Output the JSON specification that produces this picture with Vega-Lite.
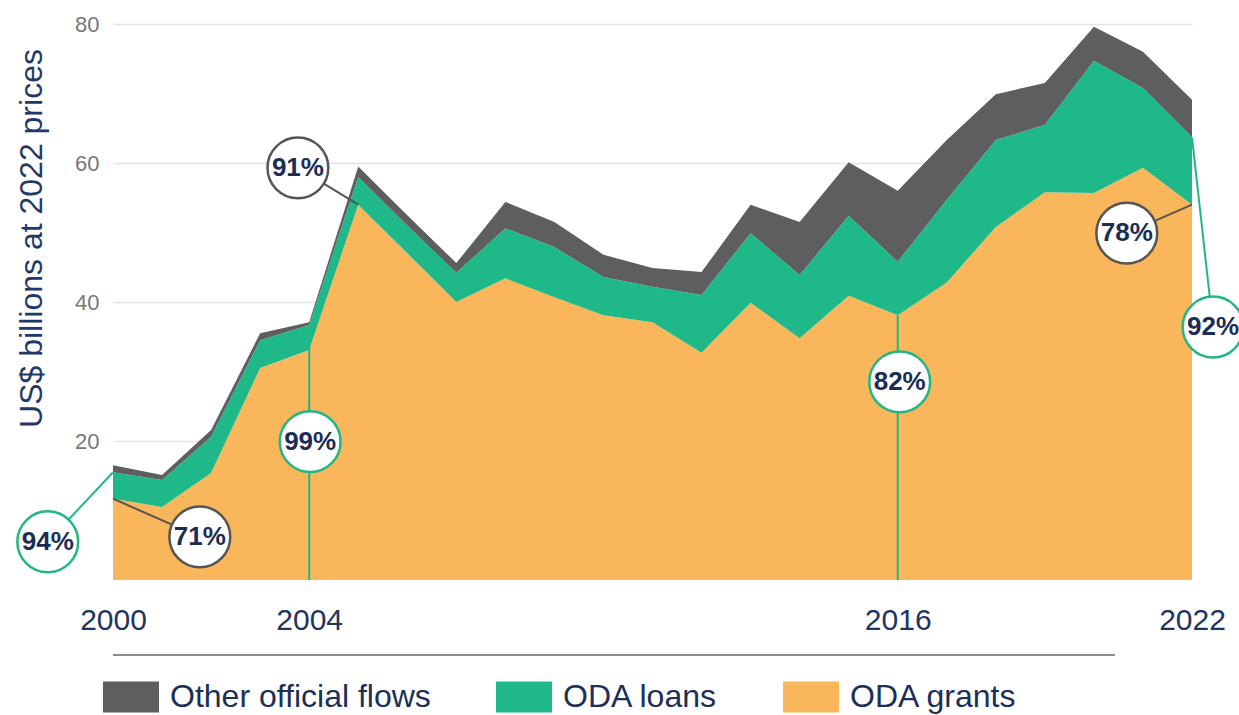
{
  "$schema": "https://vega.github.io/schema/vega-lite/v6.json",
  "autosize": "none",
  "width": 1079,
  "height": 556,
  "padding": {"top": 24, "left": 113, "right": 47, "bottom": 135},
  "background": "white",
  "config": {
    "view": {"stroke": null},
    "font": "Liberation Sans"
  },
  "datasets": {
    "flows": [
      {"year": 2000, "type": "ODA grants", "rank": 1, "value": 11.7},
      {"year": 2000, "type": "ODA loans", "rank": 2, "value": 3.8},
      {"year": 2000, "type": "Other official flows", "rank": 3, "value": 1.0},
      {"year": 2001, "type": "ODA grants", "rank": 1, "value": 10.5},
      {"year": 2001, "type": "ODA loans", "rank": 2, "value": 3.9},
      {"year": 2001, "type": "Other official flows", "rank": 3, "value": 0.7},
      {"year": 2002, "type": "ODA grants", "rank": 1, "value": 15.4},
      {"year": 2002, "type": "ODA loans", "rank": 2, "value": 5.2},
      {"year": 2002, "type": "Other official flows", "rank": 3, "value": 1.0},
      {"year": 2003, "type": "ODA grants", "rank": 1, "value": 30.5},
      {"year": 2003, "type": "ODA loans", "rank": 2, "value": 4.0},
      {"year": 2003, "type": "Other official flows", "rank": 3, "value": 1.0},
      {"year": 2004, "type": "ODA grants", "rank": 1, "value": 33.1},
      {"year": 2004, "type": "ODA loans", "rank": 2, "value": 3.6},
      {"year": 2004, "type": "Other official flows", "rank": 3, "value": 0.4},
      {"year": 2005, "type": "ODA grants", "rank": 1, "value": 54.0},
      {"year": 2005, "type": "ODA loans", "rank": 2, "value": 4.0},
      {"year": 2005, "type": "Other official flows", "rank": 3, "value": 1.5},
      {"year": 2006, "type": "ODA grants", "rank": 1, "value": 47.0},
      {"year": 2006, "type": "ODA loans", "rank": 2, "value": 4.0},
      {"year": 2006, "type": "Other official flows", "rank": 3, "value": 1.5},
      {"year": 2007, "type": "ODA grants", "rank": 1, "value": 40.0},
      {"year": 2007, "type": "ODA loans", "rank": 2, "value": 4.2},
      {"year": 2007, "type": "Other official flows", "rank": 3, "value": 1.4},
      {"year": 2008, "type": "ODA grants", "rank": 1, "value": 43.4},
      {"year": 2008, "type": "ODA loans", "rank": 2, "value": 7.2},
      {"year": 2008, "type": "Other official flows", "rank": 3, "value": 3.8},
      {"year": 2009, "type": "ODA grants", "rank": 1, "value": 40.7},
      {"year": 2009, "type": "ODA loans", "rank": 2, "value": 7.2},
      {"year": 2009, "type": "Other official flows", "rank": 3, "value": 3.6},
      {"year": 2010, "type": "ODA grants", "rank": 1, "value": 38.1},
      {"year": 2010, "type": "ODA loans", "rank": 2, "value": 5.5},
      {"year": 2010, "type": "Other official flows", "rank": 3, "value": 3.2},
      {"year": 2011, "type": "ODA grants", "rank": 1, "value": 37.1},
      {"year": 2011, "type": "ODA loans", "rank": 2, "value": 5.1},
      {"year": 2011, "type": "Other official flows", "rank": 3, "value": 2.7},
      {"year": 2012, "type": "ODA grants", "rank": 1, "value": 32.7},
      {"year": 2012, "type": "ODA loans", "rank": 2, "value": 8.3},
      {"year": 2012, "type": "Other official flows", "rank": 3, "value": 3.3},
      {"year": 2013, "type": "ODA grants", "rank": 1, "value": 39.9},
      {"year": 2013, "type": "ODA loans", "rank": 2, "value": 10.0},
      {"year": 2013, "type": "Other official flows", "rank": 3, "value": 4.1},
      {"year": 2014, "type": "ODA grants", "rank": 1, "value": 34.8},
      {"year": 2014, "type": "ODA loans", "rank": 2, "value": 9.1},
      {"year": 2014, "type": "Other official flows", "rank": 3, "value": 7.6},
      {"year": 2015, "type": "ODA grants", "rank": 1, "value": 40.9},
      {"year": 2015, "type": "ODA loans", "rank": 2, "value": 11.5},
      {"year": 2015, "type": "Other official flows", "rank": 3, "value": 7.7},
      {"year": 2016, "type": "ODA grants", "rank": 1, "value": 38.1},
      {"year": 2016, "type": "ODA loans", "rank": 2, "value": 7.7},
      {"year": 2016, "type": "Other official flows", "rank": 3, "value": 10.2},
      {"year": 2017, "type": "ODA grants", "rank": 1, "value": 42.8},
      {"year": 2017, "type": "ODA loans", "rank": 2, "value": 11.9},
      {"year": 2017, "type": "Other official flows", "rank": 3, "value": 8.6},
      {"year": 2018, "type": "ODA grants", "rank": 1, "value": 50.8},
      {"year": 2018, "type": "ODA loans", "rank": 2, "value": 12.5},
      {"year": 2018, "type": "Other official flows", "rank": 3, "value": 6.6},
      {"year": 2019, "type": "ODA grants", "rank": 1, "value": 55.8},
      {"year": 2019, "type": "ODA loans", "rank": 2, "value": 9.7},
      {"year": 2019, "type": "Other official flows", "rank": 3, "value": 6.0},
      {"year": 2020, "type": "ODA grants", "rank": 1, "value": 55.7},
      {"year": 2020, "type": "ODA loans", "rank": 2, "value": 19.0},
      {"year": 2020, "type": "Other official flows", "rank": 3, "value": 4.9},
      {"year": 2021, "type": "ODA grants", "rank": 1, "value": 59.3},
      {"year": 2021, "type": "ODA loans", "rank": 2, "value": 11.5},
      {"year": 2021, "type": "Other official flows", "rank": 3, "value": 5.2},
      {"year": 2022, "type": "ODA grants", "rank": 1, "value": 54.0},
      {"year": 2022, "type": "ODA loans", "rank": 2, "value": 9.7},
      {"year": 2022, "type": "Other official flows", "rank": 3, "value": 5.4}
    ],
    "leaders": [
      {"x": 1998.67, "y": 5.5, "x2": 2000, "y2": 15.5, "kind": "oda"},
      {"x": 2001.77, "y": 6.2, "x2": 2000, "y2": 11.7, "kind": "grant"},
      {"x": 2004, "y": 0, "x2": 2004, "y2": 36.7, "kind": "oda"},
      {"x": 2003.77, "y": 59.3, "x2": 2005, "y2": 54.0, "kind": "grant"},
      {"x": 2016, "y": 0, "x2": 2016, "y2": 38.1, "kind": "oda"},
      {"x": 2020.67, "y": 49.9, "x2": 2022, "y2": 54.0, "kind": "grant"},
      {"x": 2022.43, "y": 36.4, "x2": 2022, "y2": 63.7, "kind": "oda"}
    ],
    "notes": [
      {"x": 1998.67, "y": 5.5, "label": "94%", "kind": "oda"},
      {"x": 2001.77, "y": 6.2, "label": "71%", "kind": "grant"},
      {"x": 2004.02, "y": 19.9, "label": "99%", "kind": "oda"},
      {"x": 2003.77, "y": 59.3, "label": "91%", "kind": "grant"},
      {"x": 2016.04, "y": 28.5, "label": "82%", "kind": "oda"},
      {"x": 2020.67, "y": 49.9, "label": "78%", "kind": "grant"},
      {"x": 2022.43, "y": 36.4, "label": "92%", "kind": "oda"}
    ],
    "baseline": [
      {"x": 2000, "x2": 2020.43, "y": -10.8}
    ]
  },
  "layer": [
    {
      "data": {"name": "flows"},
      "mark": {"type": "area", "interpolate": "linear", "opacity": 1},
      "encoding": {
        "x": {
          "field": "year", "type": "quantitative",
          "scale": {"domain": [2000, 2022], "nice": false, "zero": false},
          "axis": {
            "values": [2000, 2004, 2016, 2022], "format": "d", "title": null,
            "grid": false, "domain": false, "ticks": false,
            "labelFontSize": 30, "labelColor": "#1e3461", "labelPadding": 25,
            "labelFont": "Liberation Sans", "labelFlush": false
          }
        },
        "y": {
          "field": "value", "type": "quantitative", "stack": "zero",
          "scale": {"domain": [0, 80], "nice": false},
          "axis": {
            "values": [20, 40, 60, 80], "title": "US$ billions at 2022 prices",
            "grid": true, "gridColor": "#e4e4e4", "gridWidth": 1.5,
            "domain": false, "ticks": false,
            "labelFontSize": 22, "labelColor": "#777777", "labelPadding": 14,
            "labelFont": "Liberation Sans",
            "titleFontSize": 32, "titleColor": "#1f3a68", "titleFontWeight": "normal",
            "titleFont": "Liberation Sans",
            "titleX": -72, "titleY": 214, "titleBaseline": "alphabetic", "titleAngle": -90
          }
        },
        "color": {
          "field": "type", "type": "nominal",
          "scale": {
            "domain": ["Other official flows", "ODA loans", "ODA grants"],
            "range": ["#5e5e5e", "#1fb888", "#f9b65a"]
          },
          "legend": {
            "title": null, "orient": "none", "legendX": -10, "legendY": 645,
            "direction": "horizontal", "padding": 0,
            "symbolType": "M-1,-0.55H1V0.55H-1Z", "symbolSize": 3136,
            "symbolStrokeWidth": 0, "symbolOpacity": 1,
            "labelFontSize": 32, "labelColor": "#1b2f57", "labelFont": "Liberation Sans",
            "labelOffset": 11, "columnPadding": 65, "labelLimit": 400,
            "encode": {
              "symbols": {
                "update": {
                  "fill": [
                    {"test": "datum.value === 'Other official flows'", "value": "#4f5b6b"},
                    {"scale": "color", "field": "value"}
                  ],
                  "stroke": {"value": "transparent"}
                }
              }
            }
          }
        },
        "order": {"field": "rank", "type": "quantitative"}
      }
    },
    {
      "data": {"name": "baseline"},
      "mark": {"type": "rule", "color": "#8c8c8c", "strokeWidth": 2},
      "encoding": {
        "x": {"field": "x", "type": "quantitative"},
        "x2": {"field": "x2"},
        "y": {"field": "y", "type": "quantitative"}
      }
    },
    {
      "data": {"name": "leaders"},
      "mark": {"type": "rule", "strokeWidth": 2},
      "encoding": {
        "x": {"field": "x", "type": "quantitative"},
        "x2": {"field": "x2"},
        "y": {"field": "y", "type": "quantitative"},
        "y2": {"field": "y2"},
        "stroke": {
          "field": "kind", "type": "nominal",
          "scale": {"domain": ["oda", "grant"], "range": ["#23b685", "#555555"]},
          "legend": null
        }
      }
    },
    {
      "data": {"name": "notes"},
      "mark": {"type": "point", "shape": "circle", "filled": false, "fill": "white", "fillOpacity": 1, "opacity": 1, "size": 3700, "strokeWidth": 2.5},
      "encoding": {
        "x": {"field": "x", "type": "quantitative"},
        "y": {"field": "y", "type": "quantitative"},
        "stroke": {"field": "kind", "type": "nominal", "legend": null}
      }
    },
    {
      "data": {"name": "notes"},
      "mark": {"type": "text", "font": "Liberation Sans", "fontSize": 26, "fontWeight": "bold", "color": "#1b2c55", "align": "center", "baseline": "middle"},
      "encoding": {
        "x": {"field": "x", "type": "quantitative"},
        "y": {"field": "y", "type": "quantitative"},
        "text": {"field": "label"}
      }
    }
  ]
}
